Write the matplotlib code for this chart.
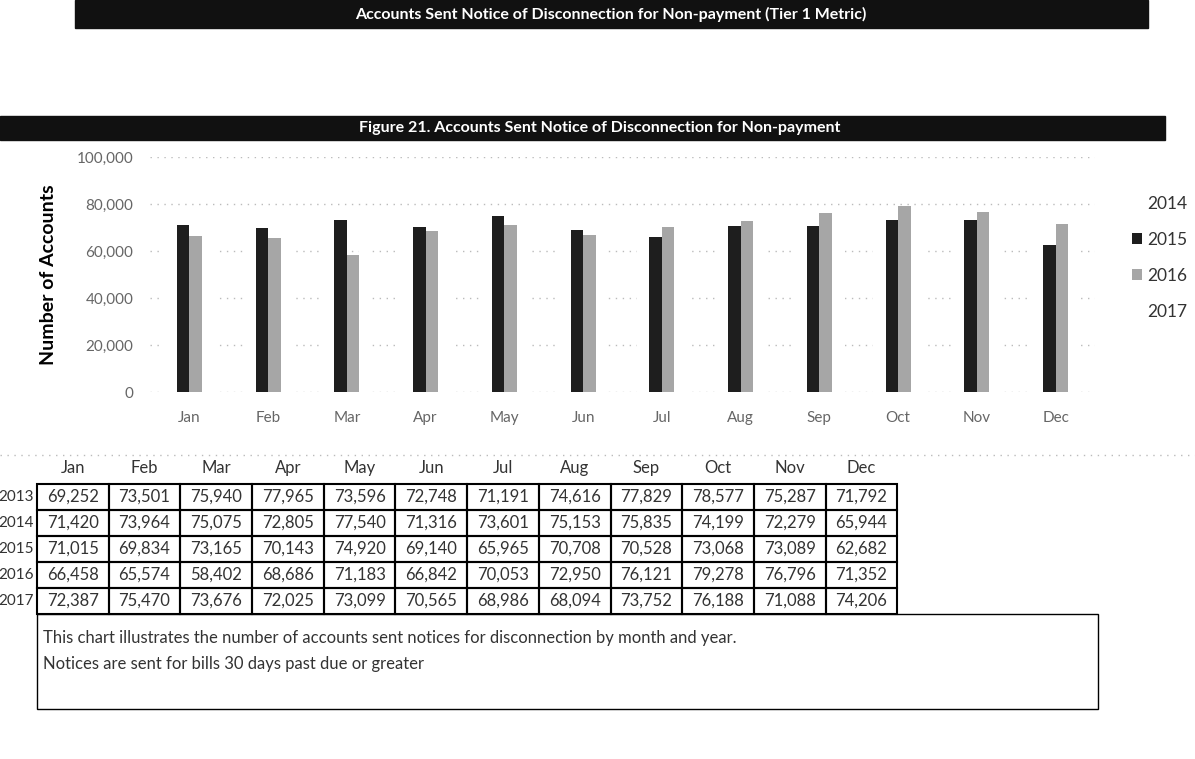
import matplotlib.pyplot as plt
from matplotlib.patches import Rectangle
from matplotlib.ticker import FuncFormatter
import numpy as np

# Data
months = ['Jan', 'Feb', 'Mar', 'Apr', 'May', 'Jun',
          'Jul', 'Aug', 'Sep', 'Oct', 'Nov', 'Dec']
table_years = ['2013', '2014', '2015', '2016', '2017']
accounts_2013 = [69252, 73501, 75940, 77965, 73596, 72748, 71191, 74616, 77829, 78577, 75287, 71792]
accounts_2014 = [71420, 73964, 75075, 72805, 77540, 71316, 73601, 75153, 75835, 74199, 72279, 65944]
accounts_2015 = [71015, 69834, 73165, 70143, 74920, 69140, 65965, 70708, 70528, 73068, 73089, 62682]
accounts_2016 = [66458, 65574, 58402, 68686, 71183, 66842, 70053, 72950, 76121, 79278, 76796, 71352]
accounts_2017 = [72387, 75470, 73676, 72025, 73099, 70565, 68986, 68094, 73752, 76188, 71088, 74206]
table_rows = [accounts_2013, accounts_2014, accounts_2015, accounts_2016, accounts_2017]

chart_years = ['2014', '2015', '2016', '2017']
chart_series = [accounts_2014, accounts_2015, accounts_2016, accounts_2017]
bar_colors = ['white', '#1e1e1e', '#a6a6a6', 'white']

page_title = 'Accounts Sent Notice of Disconnection for Non-payment (Tier 1 Metric)'
fig_title = 'Figure 21. Accounts Sent Notice of Disconnection for Non-payment'
notes = ['This chart illustrates the number of accounts sent notices for disconnection by month and year.',
         'Notices are sent for bills 30 days past due or greater']

plt.rcParams['font.family'] = ['Lato', 'DejaVu Sans']

W, H = 1195, 759
fig = plt.figure(figsize=(W / 100, H / 100), dpi=100)

# overlay in pixel coordinates for banners, table and note box
ov = fig.add_axes([0, 0, 1, 1])
ov.set_xlim(0, W)
ov.set_ylim(H, 0)
ov.axis('off')

ov.add_patch(Rectangle((75, 0), 1073, 28, color='#111111'))
ov.text(611, 14, page_title, color='white', weight='bold', fontsize=11.5,
        ha='center', va='center')
ov.add_patch(Rectangle((0, 116), 1165, 24, color='#111111'))
ov.text(600, 128, fig_title, color='white', weight='bold', fontsize=11.5,
        ha='center', va='center')

# bar chart
ax = fig.add_axes([150 / W, 1 - 392 / H, 945 / W, 235 / H])
x = np.arange(len(months))
w = 0.16
for i, (yr, vals, col) in enumerate(zip(chart_years, chart_series, bar_colors)):
    ax.bar(x + (i - 1.5) * w, vals, w, color=col, label=yr, zorder=2)

ax.set_xlim(-0.5, 11.5)
ax.set_ylim(0, 100000)
ax.set_yticks(np.arange(0, 100001, 20000))
ax.yaxis.set_major_formatter(FuncFormatter(lambda v, p: f'{v:,.0f}'))
ax.set_xticks(x)
ax.set_xticklabels(months)
ax.tick_params(length=0, labelcolor='#666666', labelsize=11)
ax.tick_params(axis='x', pad=14)
ax.tick_params(axis='y', pad=12)
for s in ax.spines.values():
    s.set_visible(False)
ax.grid(axis='y', color='#bbbbbb', linestyle=(0, (1, 4)), linewidth=1, zorder=0)
ax.set_ylabel('Number of Accounts', weight='bold', fontsize=14, labelpad=14)

ax.legend(loc='upper left', bbox_to_anchor=(1116 / W, 1 - 180 / H),
          bbox_transform=fig.transFigure, frameon=False, fontsize=12.5,
          handlelength=0.6, handleheight=0.6, handletextpad=0.3,
          labelspacing=1.15, labelcolor='#333333')

# dotted separator
ov.plot([0, W], [455, 455], color='#bbbbbb', linestyle=(0, (1, 4)), linewidth=1)

# data table
x0, cw = 37, 71.7
y0, rh = 484, 26
for j, m in enumerate(months):
    ov.text(x0 + (j + 0.5) * cw, 468, m, ha='center', va='center',
            fontsize=12, color='#333333')
for i, (yr, vals) in enumerate(zip(table_years, table_rows)):
    yc = y0 + (i + 0.5) * rh
    ov.text(x0 - 3, yc, yr, ha='right', va='center', fontsize=11, color='#333333')
    for j, v in enumerate(vals):
        ov.add_patch(Rectangle((x0 + j * cw, y0 + i * rh), cw, rh,
                               fill=False, edgecolor='black', linewidth=1.5))
        ov.text(x0 + (j + 0.5) * cw, yc, f'{v:,}', ha='center', va='center',
                fontsize=12, color='#333333')

# note box
ov.add_patch(Rectangle((x0, 614), 1061, 95, fill=False, edgecolor='black', linewidth=1))
for k, line in enumerate(notes):
    ov.text(x0 + 6, 638 + k * 26, line, ha='left', va='center',
            fontsize=12, color='#333333')

fig.savefig('out.png', dpi=100)
